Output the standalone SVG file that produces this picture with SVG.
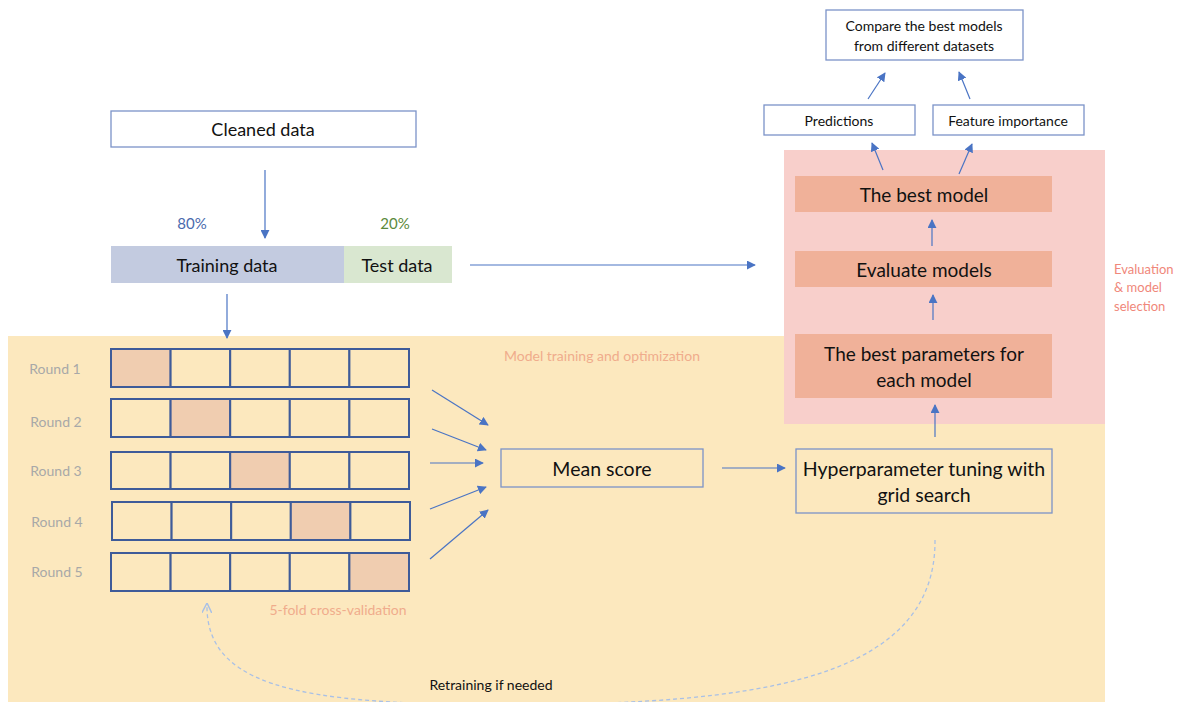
<svg xmlns="http://www.w3.org/2000/svg" width="1189" height="702" viewBox="0 0 1189 702">
<style>
text{font-family:Lato,"Liberation Sans",sans-serif;dominant-baseline:central;text-anchor:middle;fill:#111}
.box{fill:#fff;stroke:#7b93c8;stroke-width:1.3}
.nb{fill:none}
.or{fill:#f0b199}
.cell{fill:#fce8be;stroke:#3e5b99;stroke-width:2}
.hl{fill:#f0cdb0}
.rl{fill:#a8a8a8;font-size:14px}
.ln{stroke:#4a74c4;stroke-width:1.2;fill:none}
</style>
<defs>
<marker id="ah" viewBox="0 0 10 10" refX="9" refY="5" markerWidth="9" markerHeight="9" markerUnits="userSpaceOnUse" orient="auto"><path d="M0,0 L10,5 L0,10 z" fill="#4a74c4"/></marker>
<marker id="ahd" viewBox="0 0 10 10" refX="9" refY="5" markerWidth="10" markerHeight="10" markerUnits="userSpaceOnUse" orient="auto"><path d="M0,0 L10,5 L0,10" fill="none" stroke="#a9c0e6" stroke-width="1.5"/></marker>
</defs>
<rect width="1189" height="702" fill="#fff"/>
<g id="training-area">
<rect x="8" y="336" width="1097" height="366" fill="#fce8be"/>
<text x="602" y="355" style="fill:#f0ac8c;font-size:14px">Model training and optimization</text>
<text x="338" y="609" style="fill:#f0ac8c;font-size:14px">5-fold cross-validation</text>
<text x="491" y="684" style="font-size:14px">Retraining if needed</text>
</g>
<g id="eval-area">
<rect x="784" y="150" width="321" height="274" fill="#f8cfcb"/>
<text x="1114" y="269" style="fill:#f0877a;font-size:13px;text-anchor:start">Evaluation</text>
<text x="1114" y="287" style="fill:#f0877a;font-size:13px;text-anchor:start">&amp; model</text>
<text x="1114" y="306" style="fill:#f0877a;font-size:13px;text-anchor:start">selection</text>
</g>
<g id="cleaned-data"><rect class="box" x="111" y="111" width="305" height="36"/><text x="263" y="129" style="font-size:18px">Cleaned data</text></g>
<g id="pct"><text x="192" y="223" style="fill:#4a6aad;font-size:15px">80%</text><text x="395" y="223" style="fill:#5b8a3c;font-size:15px">20%</text></g>
<g id="training-data"><rect x="111" y="246" width="233" height="37" fill="#c3cbe0"/><text x="227" y="265" style="font-size:18px">Training data</text></g>
<g id="test-data"><rect x="344" y="246" width="108" height="37" fill="#d9e7d0"/><text x="397" y="265" style="font-size:18px">Test data</text></g>
<g id="folds">
<g id="round1"><text class="rl" x="55" y="368">Round 1</text>
<rect class="cell hl" x="111" y="349" width="59.6" height="38"/><rect class="cell" x="170.6" y="349" width="59.6" height="38"/><rect class="cell" x="230.2" y="349" width="59.6" height="38"/><rect class="cell" x="289.8" y="349" width="59.6" height="38"/><rect class="cell" x="349.4" y="349" width="59.6" height="38"/></g>
<g id="round2"><text class="rl" x="56" y="421">Round 2</text>
<rect class="cell" x="111" y="399" width="59.6" height="38"/><rect class="cell hl" x="170.6" y="399" width="59.6" height="38"/><rect class="cell" x="230.2" y="399" width="59.6" height="38"/><rect class="cell" x="289.8" y="399" width="59.6" height="38"/><rect class="cell" x="349.4" y="399" width="59.6" height="38"/></g>
<g id="round3"><text class="rl" x="56" y="470">Round 3</text>
<rect class="cell" x="111" y="452" width="59.6" height="37"/><rect class="cell" x="170.6" y="452" width="59.6" height="37"/><rect class="cell hl" x="230.2" y="452" width="59.6" height="37"/><rect class="cell" x="289.8" y="452" width="59.6" height="37"/><rect class="cell" x="349.4" y="452" width="59.6" height="37"/></g>
<g id="round4"><text class="rl" x="57" y="521">Round 4</text>
<rect class="cell" x="112" y="502" width="59.6" height="38"/><rect class="cell" x="171.6" y="502" width="59.6" height="38"/><rect class="cell" x="231.2" y="502" width="59.6" height="38"/><rect class="cell hl" x="290.8" y="502" width="59.6" height="38"/><rect class="cell" x="350.4" y="502" width="59.6" height="38"/></g>
<g id="round5"><text class="rl" x="57" y="571">Round 5</text>
<rect class="cell" x="111" y="553" width="59.6" height="38"/><rect class="cell" x="170.6" y="553" width="59.6" height="38"/><rect class="cell" x="230.2" y="553" width="59.6" height="38"/><rect class="cell" x="289.8" y="553" width="59.6" height="38"/><rect class="cell hl" x="349.4" y="553" width="59.6" height="38"/></g>
</g>
<g id="mean-score"><rect class="box nb" x="501" y="449" width="202" height="38"/><text x="602" y="468" style="font-size:19.5px">Mean score</text></g>
<g id="hyperparameter"><rect class="box nb" x="796" y="449" width="256" height="64"/><text x="924" y="468" style="font-size:19.5px">Hyperparameter tuning with</text><text x="924" y="494" style="font-size:19.5px">grid search</text></g>
<g id="best-params"><rect class="or" x="795" y="334" width="257" height="64"/><text x="924" y="353" style="font-size:19px">The best parameters for</text><text x="924" y="379" style="font-size:19px">each model</text></g>
<g id="evaluate"><rect class="or" x="795" y="251" width="257" height="36"/><text x="924" y="269" style="font-size:19px">Evaluate models</text></g>
<g id="best-model"><rect class="or" x="795" y="176" width="257" height="36"/><text x="924" y="194" style="font-size:19px">The best model</text></g>
<g id="predictions"><rect class="box" x="764" y="105" width="151" height="30"/><text x="839" y="120" style="font-size:14px">Predictions</text></g>
<g id="feature-importance"><rect class="box" x="933" y="105" width="151" height="30"/><text x="1008" y="120" style="font-size:14px">Feature importance</text></g>
<g id="compare"><rect class="box" x="826" y="10" width="197" height="50"/><text x="924" y="25" style="font-size:14px">Compare the best models</text><text x="924" y="45" style="font-size:14px">from different datasets</text></g>
<g id="connectors">
<line class="ln" x1="265" y1="170" x2="265" y2="238" marker-end="url(#ah)"/>
<line class="ln" x1="227" y1="294" x2="227" y2="338" marker-end="url(#ah)"/>
<line class="ln" x1="470" y1="265" x2="755" y2="265" marker-end="url(#ah)"/>
<line class="ln" x1="432" y1="390" x2="488" y2="425" marker-end="url(#ah)"/>
<line class="ln" x1="432" y1="429" x2="486" y2="450" marker-end="url(#ah)"/>
<line class="ln" x1="430" y1="463" x2="483" y2="463" marker-end="url(#ah)"/>
<line class="ln" x1="430" y1="509" x2="486" y2="487" marker-end="url(#ah)"/>
<line class="ln" x1="430" y1="559" x2="488" y2="510" marker-end="url(#ah)"/>
<line class="ln" x1="722" y1="468" x2="785" y2="468" marker-end="url(#ah)"/>
<line class="ln" x1="935" y1="437" x2="935" y2="405" marker-end="url(#ah)"/>
<line class="ln" x1="933" y1="320" x2="933" y2="295" marker-end="url(#ah)"/>
<line class="ln" x1="932" y1="246" x2="932" y2="220" marker-end="url(#ah)"/>
<line class="ln" x1="883" y1="170" x2="872" y2="143" marker-end="url(#ah)"/>
<line class="ln" x1="959" y1="174" x2="972" y2="144" marker-end="url(#ah)"/>
<line class="ln" x1="868" y1="99" x2="885" y2="73" marker-end="url(#ah)"/>
<line class="ln" x1="970" y1="99" x2="959" y2="72" marker-end="url(#ah)"/>
<path d="M935,540 C936,670 780,700 570,704 C320,708 205,695 207,604" fill="none" stroke="#a9c0e6" stroke-width="1.3" stroke-dasharray="4,3" marker-end="url(#ahd)"/>
</g>
</svg>
